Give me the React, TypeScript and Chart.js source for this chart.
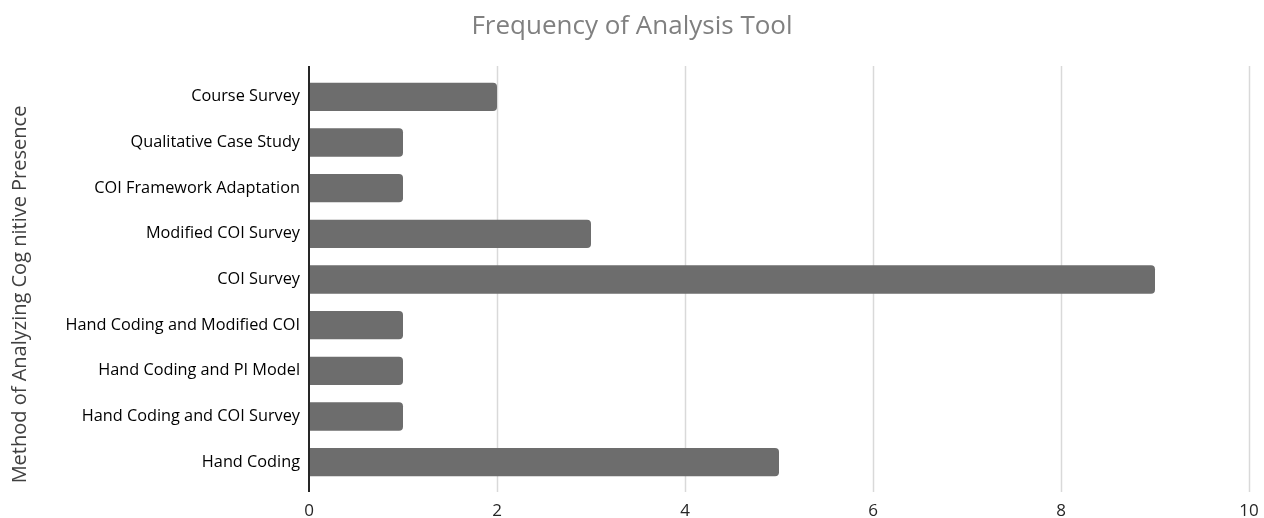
import React, { useEffect, useRef } from "react";
import { Chart, registerables } from "chart.js";

Chart.register(...registerables);

const categories = [
  "Course Survey",
  "Qualitative Case Study",
  "COI Framework Adaptation",
  "Modified COI Survey",
  "COI Survey",
  "Hand Coding and Modified COI",
  "Hand Coding and PI Model",
  "Hand Coding and COI Survey",
  "Hand Coding",
];
const frequencies = [2, 1, 1, 3, 9, 1, 1, 1, 5];
const xTicks = [0, 2, 4, 6, 8, 10];
const chartTitle = "Frequency of Analysis Tool";
const yAxisTitle = "Method of Analyzing Cog nitive Presence";

const FONT = "'Open Sans', 'Noto Sans', sans-serif";

const gridPlugin = {
  id: "excelGrid",
  beforeDatasetsDraw(chart: any) {
    const { ctx, chartArea, scales } = chart;
    const xs = scales.x;
    ctx.save();
    ctx.strokeStyle = "#d9d9d9";
    ctx.lineWidth = 1.5;
    xTicks.forEach((t) => {
      if (t === 0) return;
      const px = Math.round(xs.getPixelForValue(t)) + 0.5;
      ctx.beginPath();
      ctx.moveTo(px, chartArea.top - 8);
      ctx.lineTo(px, chartArea.bottom + 7);
      ctx.stroke();
    });
    ctx.restore();
  },
  afterDatasetsDraw(chart: any) {
    const { ctx, chartArea, scales } = chart;
    const px = scales.x.getPixelForValue(0);
    ctx.save();
    ctx.strokeStyle = "#262626";
    ctx.lineWidth = 2;
    ctx.beginPath();
    ctx.moveTo(px, chartArea.top - 8);
    ctx.lineTo(px, chartArea.bottom + 7);
    ctx.stroke();
    ctx.restore();
  },
  afterDraw(chart: any) {
    const { ctx, chartArea } = chart;
    ctx.save();
    ctx.fillStyle = "#404040";
    ctx.font = `20px ${FONT}`;
    ctx.textAlign = "center";
    ctx.textBaseline = "middle";
    ctx.translate(20, (chartArea.top + chartArea.bottom) / 2 + 15);
    ctx.rotate(-Math.PI / 2);
    ctx.fillText(yAxisTitle, 0, 0);
    ctx.restore();
  },
};

export default function App() {
  const canvasRef = useRef<HTMLCanvasElement | null>(null);

  useEffect(() => {
    if (!canvasRef.current) return;
    const chart = new Chart(canvasRef.current, {
      type: "bar",
      data: {
        labels: categories,
        datasets: [
          {
            data: frequencies,
            backgroundColor: "#6d6d6d",
            borderRadius: 4,
            barPercentage: 0.62,
            categoryPercentage: 1,
          },
        ],
      },
      options: {
        indexAxis: "y",
        animation: false,
        responsive: true,
        maintainAspectRatio: false,
        layout: { padding: 0 },
        plugins: {
          legend: { display: false },
          tooltip: { enabled: false },
          title: {
            display: true,
            text: chartTitle,
            color: "#808080",
            font: { family: FONT, size: 26, weight: "normal" },
            padding: { top: 11.4, bottom: 31.4 },
          },
        },
        scales: {
          x: {
            min: 0,
            max: 10,
            afterBuildTicks: (scale: any) => {
              scale.ticks = xTicks.map((v) => ({ value: v }));
            },
            afterFit: (scale: any) => {
              scale.height = 33;
              scale.paddingLeft = 0;
              scale.paddingRight = 15;
            },
            grid: { display: false, drawTicks: false },
            border: { display: false },
            ticks: {
              color: "#262626",
              padding: 16,
              font: { family: FONT, size: 17 },
            },
          },
          y: {
            afterFit: (scale: any) => {
              scale.width = 309;
            },
            grid: { display: false, drawTicks: false },
            border: { display: false },
            ticks: {
              color: "#000000",
              padding: 9,
              font: { family: FONT, size: 16.3 },
            },
          },
        },
      },
      plugins: [gridPlugin],
    });
    return () => chart.destroy();
  }, []);

  return (
    <div style={{ position: "absolute", left: 0, top: 0, width: 1264, height: 518 }}>
      <canvas ref={canvasRef} />
    </div>
  );
}
